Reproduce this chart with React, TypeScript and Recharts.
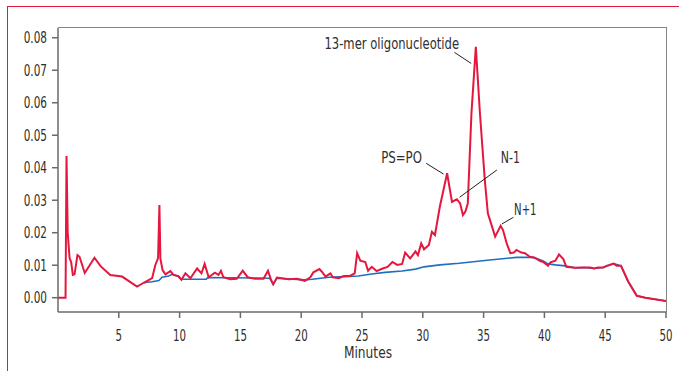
import React from 'react';
import { LineChart, Line, XAxis, YAxis, ReferenceLine, ReferenceDot } from 'recharts';

const sampleMinutes = [
  0, 0.62, 0.7, 0.8, 0.95, 1.08, 1.22, 1.36, 1.6, 1.77, 2.2, 3.0, 3.5, 4.3, 5.27, 6.5, 7.05, 7.74, 8.0, 8.23,
  8.34, 8.42, 8.6, 8.83, 9.24, 9.5, 9.9, 10.15, 10.48, 10.89, 11.44, 11.8, 12.06, 12.39, 12.9, 13.2, 13.4, 13.6,
  14.17, 14.7, 15.19, 15.6, 16.2, 16.9, 17.27, 17.5, 17.7, 18.0, 18.4, 18.97, 19.65, 20.3, 20.75, 21.0, 21.5,
  21.7, 22.0, 22.4, 22.6, 23.1, 23.5, 24.0, 24.4, 24.6, 24.86, 25.27, 25.5, 25.8, 26.2, 26.7, 27.1, 27.5, 27.9,
  28.3, 28.55, 28.96, 29.4, 29.6, 29.87, 30.1, 30.5, 30.75, 31.0, 31.4, 32.0, 32.4, 32.8, 33.07, 33.3, 33.5,
  33.7, 34.0, 34.36, 34.7, 35.1, 35.35, 35.7, 35.95, 36.4, 36.6, 36.9, 37.2, 37.5, 37.7, 38.1, 38.4, 38.8, 39.2,
  39.65, 39.9, 40.3, 40.5, 40.9, 41.2, 41.56, 41.8, 42.5, 43.3, 43.75, 44.1, 44.4, 44.85, 45.1, 45.3, 45.7,
  45.95, 46.3, 46.9, 47.6, 48.3, 50,
];
const sampleAbsorbance = [
  0, 0, 0.0436, 0.02, 0.0122, 0.011, 0.007, 0.0072, 0.0131, 0.0126, 0.0076, 0.0123, 0.0097, 0.007, 0.0065, 0.0034,
  0.0046, 0.006, 0.01, 0.0122, 0.0285, 0.012, 0.0085, 0.0072, 0.0082, 0.007, 0.0066, 0.0055, 0.0075, 0.006, 0.009,
  0.0075, 0.0104, 0.0063, 0.0077, 0.007, 0.0083, 0.0063, 0.0057, 0.0058, 0.0083, 0.0063, 0.0058, 0.0058, 0.0083,
  0.0057, 0.0041, 0.0062, 0.006, 0.0057, 0.0058, 0.0052, 0.0063, 0.0078, 0.0088, 0.008, 0.0065, 0.0075, 0.0063,
  0.006, 0.0067, 0.0067, 0.0075, 0.0137, 0.0114, 0.011, 0.0083, 0.0095, 0.0082, 0.009, 0.0095, 0.011, 0.0101,
  0.0104, 0.0139, 0.0121, 0.0142, 0.0131, 0.0167, 0.0149, 0.0162, 0.0203, 0.0193, 0.028, 0.0383, 0.0295, 0.0303,
  0.029, 0.0254, 0.0265, 0.029, 0.0567, 0.0772, 0.0567, 0.0362, 0.026, 0.0218, 0.0188, 0.0221, 0.0208, 0.0167,
  0.0137, 0.0139, 0.0147, 0.0139, 0.0137, 0.0126, 0.0123, 0.0113, 0.011, 0.0098, 0.0109, 0.0114, 0.0133, 0.0119,
  0.0095, 0.0092, 0.0093, 0.0093, 0.009, 0.0093, 0.0093, 0.0098, 0.01, 0.0105, 0.0098, 0.0098, 0.0049, 0.0006, 0,
  -0.001,
];

const blankMinutes = [
  7.0, 7.74, 8.3, 8.56, 9.1, 9.4, 9.9, 10.15, 12.2, 12.3, 17.4, 17.7, 18.0, 20.3, 20.9, 22.3, 23.6, 24.7, 25.8,
  26.9, 28.3, 29.4, 30.1, 31.4, 33.0, 35.5, 37.7, 39.1, 39.9, 40.3, 40.9, 41.7, 42.5, 43.3, 44.1, 44.85, 45.3,
  45.7, 46.3, 46.9, 47.6, 48.3, 50,
];
const blankAbsorbance = [
  0.0046, 0.0049, 0.0053, 0.0063, 0.0067, 0.0072, 0.0066, 0.0057, 0.0057, 0.0062, 0.006, 0.0041, 0.006, 0.0055,
  0.0057, 0.0063, 0.0065, 0.0067, 0.0073, 0.0078, 0.0082, 0.0088, 0.0095, 0.0101, 0.0106, 0.0116, 0.0124, 0.0124,
  0.0113, 0.0104, 0.0101, 0.0098, 0.0092, 0.0093, 0.009, 0.0093, 0.01, 0.0105, 0.0098, 0.0049, 0.0006, 0, -0.001,
];

const yTicks = [0, 0.01, 0.02, 0.03, 0.04, 0.05, 0.06, 0.07, 0.08];
const xTicks = [5, 10, 15, 20, 25, 30, 35, 40, 45, 50];
const xAxisTitle = 'Minutes';

const peakLabels = [
  { text: '13-mer oligonucleotide', x: 32.98, y: 0.0781, anchor: 'end' },
  { text: 'PS=PO', x: 29.93, y: 0.0431, anchor: 'end' },
  { text: 'N-1', x: 36.42, y: 0.0431, anchor: 'start' },
  { text: 'N+1', x: 37.51, y: 0.0271, anchor: 'start' },
];
const leaderLines = [
  { x1: 32.6, y1: 0.0755, x2: 33.98, y2: 0.0721 },
  { x1: 30.28, y1: 0.04135, x2: 31.7, y2: 0.03806 },
  { x1: 36.09, y1: 0.0393, x2: 33.02, y2: 0.0309 },
  { x1: 37.45, y1: 0.02474, x2: 36.5, y2: 0.02268 },
];

const sampleData = sampleMinutes.map((t, i) => ({ t, v: sampleAbsorbance[i] }));
const blankData = blankMinutes.map((t, i) => ({ t, v: blankAbsorbance[i] }));

const FONT = "'DejaVu Sans Condensed', 'Liberation Sans Narrow', 'Roboto', sans-serif";
const RED = '#e5173f';
const BLUE = '#1f6fbf';
const TEXT = '#2e2e2e';
const FS = 15;

// approximate advance widths of the original's narrow typeface
function narrowWidth(s: string): number {
  let w = 0;
  for (const ch of s) {
    if (/[0-9]/.test(ch)) w += 6.5;
    else if (ch === '.') w += 3.8;
    else if (ch === ' ') w += 3.7;
    else if (/[il]/.test(ch)) w += 3.0;
    else if (ch === 't' || ch === '-') w += 4.4;
    else if (ch === 'r') w += 4.6;
    else if (ch === 'm' || ch === 'M') w += 11.1;
    else if (ch === '=' || ch === '+') w += 7.6;
    else if (/[A-Z]/.test(ch)) w += 8.3;
    else w += 7.4;
  }
  return w;
}

function NarrowText({ x, y, text, anchor, dy }: { x: number; y: number; text: string; anchor: string; dy: string }) {
  return (
    <text
      x={x}
      y={y}
      dy={dy}
      textAnchor={anchor}
      fill={TEXT}
      fontSize={FS}
      fontFamily={FONT}
      textLength={narrowWidth(text)}
      lengthAdjust="spacingAndGlyphs"
    >
      {text}
    </text>
  );
}

const YTick = (props: any) => {
  const label = Number(props.payload.value).toFixed(2);
  return <NarrowText x={props.x} y={props.y} text={label} anchor="end" dy="0.36em" />;
};

const XTick = (props: any) => {
  const label = String(props.payload.value);
  return <NarrowText x={props.x} y={props.y} text={label} anchor="middle" dy="0.71em" />;
};

const XTitle = (props: any) => {
  const vb = props.viewBox;
  return <NarrowText x={vb.x + vb.width / 2 + 6} y={vb.y + vb.height - 4} text={xAxisTitle} anchor="middle" dy="0" />;
};

export default function App() {
  return (
    <div style={{ position: 'absolute', left: 0, top: 0, width: 679, height: 371, background: '#fff', fontFamily: FONT }}>
      <div style={{ position: 'absolute', left: 7, top: 6, width: 672, height: 365, borderTop: `1.5px solid ${RED}`, borderLeft: `1.5px solid ${RED}`, boxSizing: 'border-box' }} />
      <div style={{ position: 'absolute', left: 58, top: 27, width: 609, height: 285, borderTop: '1.5px solid #858585', borderRight: '1.5px solid #858585', boxSizing: 'border-box' }} />
      <div style={{ position: 'absolute', left: 0, top: 0 }}>
        <LineChart width={679} height={371} margin={{ top: 28, right: 13, left: 0, bottom: 9 }}>
          <XAxis
            dataKey="t"
            type="number"
            domain={[0, 50]}
            ticks={xTicks}
            allowDuplicatedCategory={false}
            height={50}
            tickSize={6}
            tickMargin={12}
            stroke="#6a6a6a"
            strokeWidth={1.5}
            tick={<XTick />}
            label={<XTitle />}
          />
          <YAxis
            type="number"
            domain={[-0.0044, 0.083]}
            ticks={yTicks}
            width={58}
            tickSize={6}
            tickMargin={5}
            stroke="#6a6a6a"
            strokeWidth={1.5}
            tick={<YTick />}
          />
          <Line data={blankData} dataKey="v" type="linear" stroke={BLUE} strokeWidth={1.6} dot={false} isAnimationActive={false} />
          <Line data={sampleData} dataKey="v" type="linear" stroke={RED} strokeWidth={2} dot={false} isAnimationActive={false} />
          {leaderLines.map((l, i) => (
            <ReferenceLine
              key={`l${i}`}
              segment={[{ x: l.x1, y: l.y1 }, { x: l.x2, y: l.y2 }]}
              stroke="#222"
              strokeWidth={1}
              ifOverflow="visible"
            />
          ))}
          {peakLabels.map((p, i) => (
            <ReferenceDot
              key={`p${i}`}
              x={p.x}
              y={p.y}
              r={0}
              ifOverflow="visible"
              shape={(props: any) => <NarrowText x={props.cx} y={props.cy} text={p.text} anchor={p.anchor} dy="0.36em" />}
            />
          ))}
        </LineChart>
      </div>
    </div>
  );
}
